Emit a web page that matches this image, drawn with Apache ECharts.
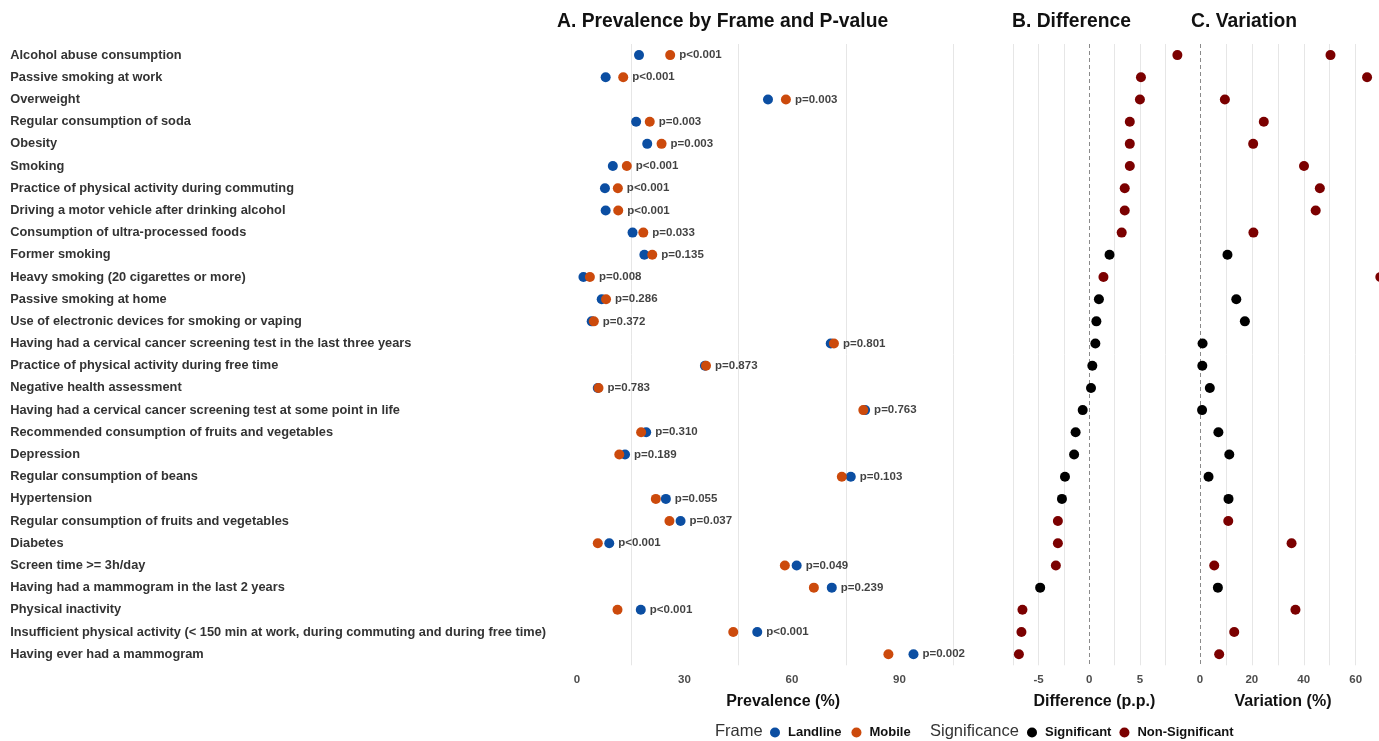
<!DOCTYPE html>
<html>
<head>
<meta charset="utf-8">
<title>Prevalence by frame</title>
<script src="https://cdn.jsdelivr.net/npm/echarts@6/dist/echarts.min.js"></script>
<style>
  html, body { margin: 0; padding: 0; background: #fff; }
  #chart { width: 1379px; height: 741px; }
</style>
</head>
<body>
<div id="chart"></div>
<script>
// indicadores (de cima para baixo)
const categories = [
  "Alcohol abuse consumption",
  "Passive smoking at work",
  "Overweight",
  "Regular consumption of soda",
  "Obesity",
  "Smoking",
  "Practice of physical activity during commuting",
  "Driving a motor vehicle after drinking alcohol",
  "Consumption of ultra-processed foods",
  "Former smoking",
  "Heavy smoking (20 cigarettes or more)",
  "Passive smoking at home",
  "Use of electronic devices for smoking or vaping",
  "Having had a cervical cancer screening test in the last three years",
  "Practice of physical activity during free time",
  "Negative health assessment",
  "Having had a cervical cancer screening test at some point in life",
  "Recommended consumption of fruits and vegetables",
  "Depression",
  "Regular consumption of beans",
  "Hypertension",
  "Regular consumption of fruits and vegetables",
  "Diabetes",
  "Screen time >= 3h/day",
  "Having had a mammogram in the last 2 years",
  "Physical inactivity",
  "Insufficient physical activity (< 150 min at work, during commuting and during free time)",
  "Having ever had a mammogram"
];
const landline = [17.3, 8.0, 53.3, 16.5, 19.6, 10.0, 7.8, 8.0, 15.5, 18.8, 1.8, 6.9, 4.1, 70.8,
  35.7, 5.8, 80.4, 19.3, 13.4, 76.4, 24.8, 28.9, 9.0, 61.3, 71.1, 17.8, 50.3, 93.9];
const mobile = [26.0, 12.9, 58.3, 20.3, 23.6, 13.9, 11.4, 11.5, 18.5, 21.0, 3.6, 8.1, 4.7, 71.7,
  36.0, 6.0, 79.9, 17.9, 11.8, 73.9, 22.0, 25.8, 5.8, 58.0, 66.1, 11.3, 43.6, 86.9];
const pValues = ["p<0.001", "p<0.001", "p=0.003", "p=0.003", "p=0.003", "p<0.001", "p<0.001",
  "p<0.001", "p=0.033", "p=0.135", "p=0.008", "p=0.286", "p=0.372", "p=0.801", "p=0.873",
  "p=0.783", "p=0.763", "p=0.310", "p=0.189", "p=0.103", "p=0.055", "p=0.037", "p<0.001",
  "p=0.049", "p=0.239", "p<0.001", "p<0.001", "p=0.002"];
const difference = [8.7, 5.1, 5.0, 4.0, 4.0, 4.0, 3.5, 3.5, 3.2, 2.0, 1.4, 0.95, 0.7, 0.6,
  0.3, 0.17, -0.65, -1.35, -1.5, -2.4, -2.7, -3.1, -3.1, -3.3, -4.85, -6.6, -6.7, -6.95];
const variation = [50.3, 64.4, 9.6, 24.6, 20.5, 40.1, 46.2, 44.6, 20.6, 10.6, 69.5, 14.0, 17.3, 1.0,
  0.9, 3.8, 0.8, 7.1, 11.3, 3.3, 11.0, 10.9, 35.3, 5.5, 6.9, 36.8, 13.2, 7.4];
// 1 = Significant, 0 = Non-Significant
const significant = [0, 0, 0, 0, 0, 0, 0, 0, 0, 1, 0, 1, 1, 1, 1, 1, 1, 1, 1, 1, 1, 0, 0, 0, 1, 0, 0, 0];

const prevTicks = [0, 30, 60, 90];
const prevGrid = [15, 45, 75, 105];
const diffTicks = [-5, 0, 5];
const diffGrid = [-7.5, -5, -2.5, 2.5, 5, 7.5];
const varTicks = [0, 20, 40, 60];
const varGrid = [10, 20, 30, 40, 50, 60];

const FONT = "'Liberation Sans', Arial, Helvetica, sans-serif";
const BLUE = "#0b4ea2", ORANGE = "#cc4a0c", DARKRED = "#7b0000";

var chart = echarts.init(document.getElementById("chart"));

function gridLines(solid, dashed) {
  var d = solid.map(function (v) {
    return { xAxis: v, lineStyle: { color: "#e6e6e6", width: 1, type: "solid" } };
  });
  if (dashed !== null) {
    d.push({ xAxis: dashed, lineStyle: { color: "#8a8a8a", width: 1, type: [4, 3] } });
  }
  return { silent: true, symbol: ["none", "none"], label: { show: false }, z: 1, data: d };
}

function valueAxis(idx, min, max, ticks, name) {
  return {
    type: "value", gridIndex: idx, min: min, max: max,
    axisLine: { show: false }, axisTick: { show: false }, splitLine: { show: false },
    axisLabel: {
      customValues: ticks, margin: 9, color: "#4d4d4d", fontWeight: "bold",
      fontSize: 11.5, fontFamily: FONT
    },
    name: name, nameLocation: "middle", nameGap: 28,
    nameTextStyle: { color: "#111", fontWeight: "bold", fontSize: 16, fontFamily: FONT }
  };
}

function catAxis(idx, showLabels) {
  return {
    type: "category", gridIndex: idx, data: categories, inverse: true,
    axisLine: { show: false }, axisTick: { show: false }, splitLine: { show: false },
    axisLabel: {
      show: showLabels, align: "left", margin: 556, color: "#333",
      fontWeight: "bold", fontSize: 12.8, fontFamily: FONT
    }
  };
}

function rows(values, keep) {
  var out = [];
  values.forEach(function (v, i) {
    if (keep === undefined || significant[i] === keep) out.push([v, i]);
  });
  return out;
}

var dot = { type: "scatter", symbol: "circle", symbolSize: 10, silent: true };
var titleText = { fontSize: 19.3, fontWeight: "bold", color: "#111", fontFamily: FONT };
var legendText = { fontWeight: "bold", fontSize: 13, color: "#111", fontFamily: FONT };

var option = {
  animation: false,
  backgroundColor: "#fff",
  textStyle: { fontFamily: FONT },
  title: [
    { text: "A. Prevalence by Frame and P-value", left: 552, top: 7, textStyle: titleText },
    { text: "B. Difference", left: 1007, top: 7, textStyle: titleText },
    { text: "C. Variation", left: 1186, top: 7, textStyle: titleText }
  ],
  grid: [
    { left: 566.25, width: 433.6, top: 44, height: 621.3 },
    { left: 1003.2, width: 182.3, top: 44, height: 621.3 },
    { left: 1187, width: 192.4, top: 44, height: 621.3 }
  ],
  xAxis: [
    valueAxis(0, -3, 118, prevTicks, "Prevalence (%)"),
    valueAxis(1, -8.5, 9.5, diffTicks, "Difference (p.p.)"),
    valueAxis(2, -5, 69, varTicks, "Variation (%)")
  ],
  yAxis: [catAxis(0, true), catAxis(1, false), catAxis(2, false)],
  legend: [
    { data: ["Landline", "Mobile"], left: 765, top: 721, icon: "circle",
      itemWidth: 16, itemHeight: 10, itemGap: 10, selectedMode: false,
      textStyle: legendText },
    { data: ["Significant", "Non-Significant"], left: 1022, top: 721, icon: "circle",
      itemWidth: 16, itemHeight: 10, itemGap: 8, selectedMode: false,
      textStyle: legendText }
  ],
  graphic: [
    { type: "text", left: 715, top: 723,
      style: { text: "Frame", fontSize: 16.5, fill: "#333", fontFamily: FONT } },
    { type: "text", left: 930, top: 723,
      style: { text: "Significance", fontSize: 16.5, fill: "#333", fontFamily: FONT } }
  ],
  series: [
    // panel A
    Object.assign({}, dot, { name: "pvalue", xAxisIndex: 0, yAxisIndex: 0, z: 2,
      data: landline.map(function (v, i) { return [Math.max(v, mobile[i]), i]; }),
      itemStyle: { color: "rgba(0,0,0,0)" },
      markLine: gridLines(prevGrid, null),
      label: {
        show: true, position: "right", distance: 4, color: "#111",
        fontWeight: "bold", fontSize: 11.5, fontFamily: FONT,
        formatter: function (p) { return pValues[p.data[1]]; }
      } }),
    Object.assign({}, dot, { name: "Landline", xAxisIndex: 0, yAxisIndex: 0, z: 3,
      data: rows(landline), itemStyle: { color: BLUE, opacity: 1 } }),
    Object.assign({}, dot, { name: "Mobile", xAxisIndex: 0, yAxisIndex: 0, z: 4,
      data: rows(mobile), itemStyle: { color: ORANGE, opacity: 1 } }),
    // panel B
    Object.assign({}, dot, { name: "Significant", xAxisIndex: 1, yAxisIndex: 1, z: 3,
      data: rows(difference, 1), itemStyle: { color: "#000", opacity: 1 },
      markLine: gridLines(diffGrid, 0) }),
    Object.assign({}, dot, { name: "Non-Significant", xAxisIndex: 1, yAxisIndex: 1, z: 3,
      data: rows(difference, 0), itemStyle: { color: DARKRED, opacity: 1 } }),
    // panel C
    Object.assign({}, dot, { name: "Significant", xAxisIndex: 2, yAxisIndex: 2, z: 3,
      data: rows(variation, 1), itemStyle: { color: "#000", opacity: 1 },
      markLine: gridLines(varGrid, 0) }),
    Object.assign({}, dot, { name: "Non-Significant", xAxisIndex: 2, yAxisIndex: 2, z: 3,
      data: rows(variation, 0), itemStyle: { color: DARKRED, opacity: 1 }, clip: false })
  ]
};

chart.setOption(option);
window.addEventListener("resize", function () {
  chart.resize();
});
</script>
</body>
</html>
